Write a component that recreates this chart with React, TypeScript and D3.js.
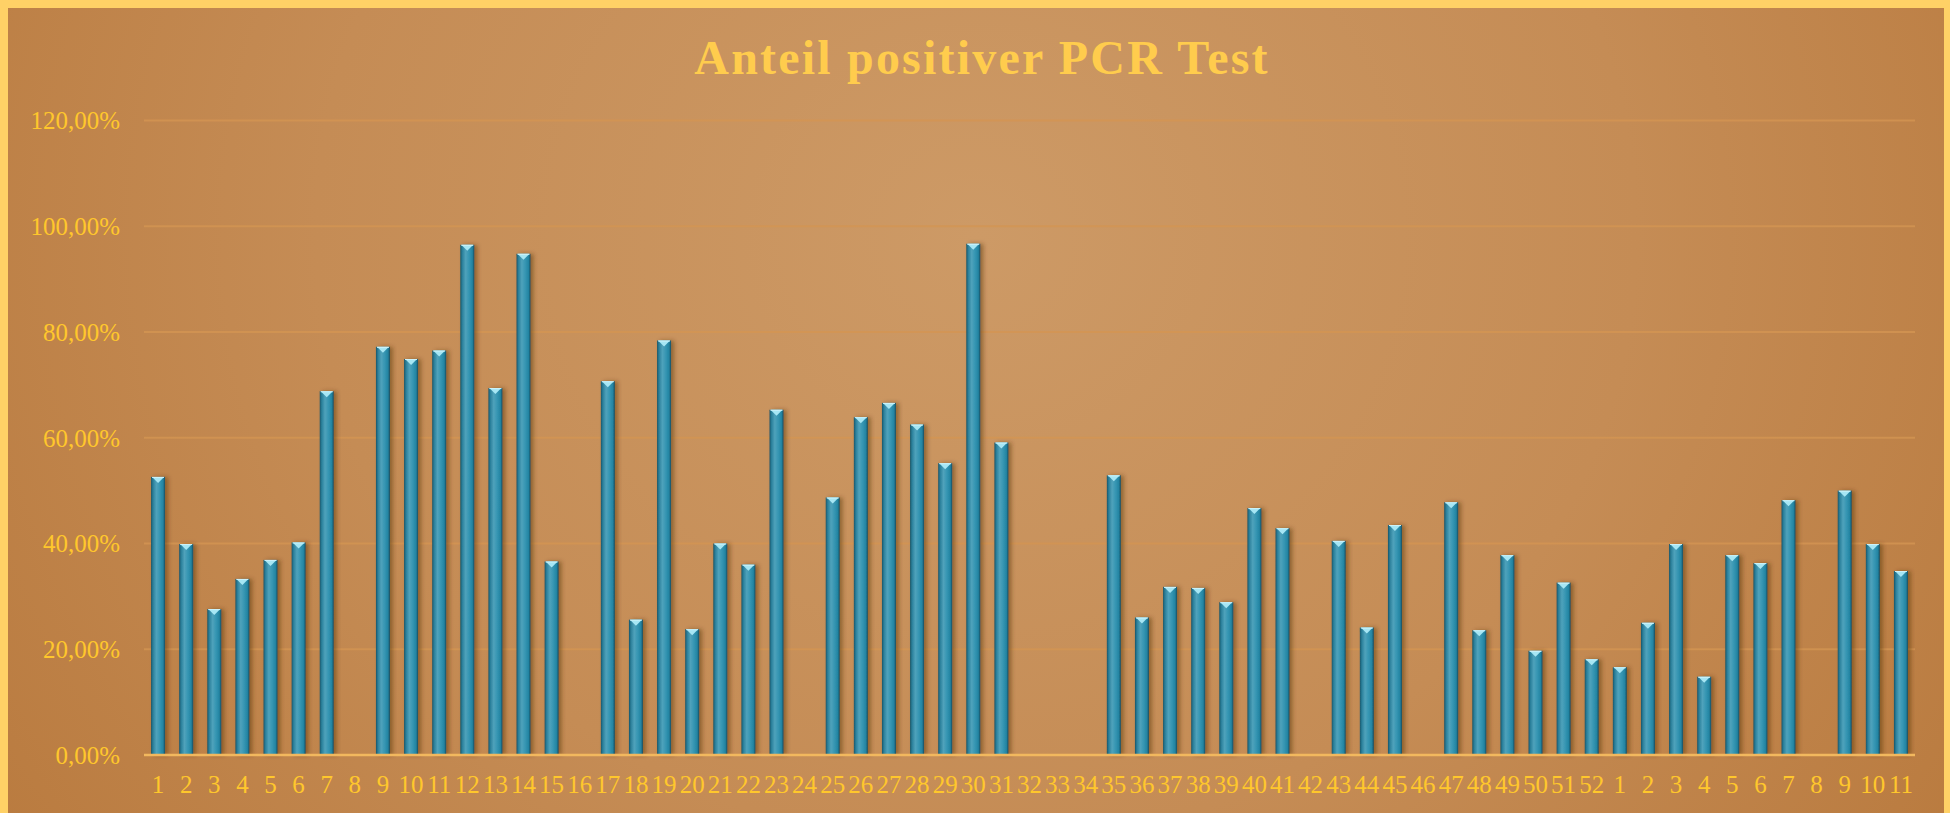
import React from 'react';
import * as d3 from 'd3';

const W = 1950;
const H = 813;

// Kalenderwochen (2020 KW 1-52, 2021 KW 1-11)
const weeks = [
  '1', '2', '3', '4', '5', '6', '7', '8', '9', '10', '11', '12', '13',
  '14', '15', '16', '17', '18', '19', '20', '21', '22', '23', '24', '25', '26',
  '27', '28', '29', '30', '31', '32', '33', '34', '35', '36', '37', '38', '39',
  '40', '41', '42', '43', '44', '45', '46', '47', '48', '49', '50', '51', '52',
  '1', '2', '3', '4', '5', '6', '7', '8', '9', '10', '11',
];

// Anteil positiver Tests in % (null = kein Wert)
const positive = [
  52.6, 39.9, 27.6, 33.3, 36.9, 40.2, 68.8, null, 77.2, 74.9, 76.5, 96.5, 69.4,
  94.8, 36.6, null, 70.7, 25.6, 78.4, 23.8, 40.0, 36.0, 65.3, null, 48.7, 63.9,
  66.6, 62.5, 55.2, 96.7, 59.1, null, null, null, 52.9, 26.0, 31.8, 31.6, 28.9,
  46.7, 42.9, null, 40.5, 24.1, 43.5, null, 47.8, 23.6, 37.8, 19.7, 32.6, 18.1,
  16.6, 25.0, 39.9, 14.8, 37.8, 36.3, 48.2, null, 50.0, 39.9, 34.8,
];

const yTicks = [0, 20, 40, 60, 80, 100, 120];

const title = 'Anteil positiver PCR Test';

const margin = { left: 144, right: 35, top: 120.6, bottom: 58 };

const fmt = (v: number) => v.toFixed(2).replace('.', ',') + '%';

export default function App() {
  const idx = weeks.map((_, i) => i);

  const x = d3
    .scaleBand<number>()
    .domain(idx)
    .range([margin.left, W - margin.right])
    .paddingInner(0)
    .paddingOuter(0);

  const y = d3
    .scaleLinear()
    .domain([0, 120])
    .range([H - margin.bottom, margin.top]);

  const barW = 14;
  const serif = '"Liberation Serif", "Times New Roman", serif';

  return (
    <svg
      width={W}
      height={H}
      style={{ position: 'absolute', left: 0, top: 0 }}
      fontFamily={serif}
    >
      <defs>
        <radialGradient id="bg" cx="0.5" cy="0.28" r="0.62" gradientTransform="translate(0.5 0.28) scale(1 2.2) translate(-0.5 -0.28)">
          <stop offset="0%" stopColor="#cd9a66" />
          <stop offset="55%" stopColor="#c58c55" />
          <stop offset="100%" stopColor="#b97a3e" />
        </radialGradient>
        <linearGradient id="cyl" x1="0" x2="1" y1="0" y2="0">
          <stop offset="0%" stopColor="#1a5568" />
          <stop offset="14%" stopColor="#2a7f9a" />
          <stop offset="38%" stopColor="#4fa2bb" />
          <stop offset="62%" stopColor="#3696b3" />
          <stop offset="86%" stopColor="#2384a2" />
          <stop offset="100%" stopColor="#174c5e" />
        </linearGradient>
        <filter id="shadow" x="-50%" y="-5%" width="200%" height="110%">
          <feDropShadow dx="3" dy="0" stdDeviation="2" floodColor="#4a2a10" floodOpacity="0.45" />
        </filter>
      </defs>

      {/* rahmen + hintergrund */}
      <rect x={0} y={0} width={W} height={H} fill="#ffd166" />
      <rect x={8} y={8} width={W - 14} height={H} fill="url(#bg)" />

      <text
        x={982}
        y={74}
        textAnchor="middle"
        fontSize={48}
        fontWeight="bold"
        letterSpacing={2.2}
        fill="#ffcc4d"
      >
        {title}
      </text>

      {/* gitterlinien */}
      {yTicks.map((t) => (
        <g key={t}>
          {t > 0 && (
            <line
              x1={margin.left}
              x2={W - margin.right}
              y1={y(t)}
              y2={y(t)}
              stroke="#d39552"
              strokeOpacity={0.8}
              strokeWidth={2}
            />
          )}
          <text
            x={120}
            y={y(t)}
            dy="0.35em"
            textAnchor="end"
            fontSize={25}
            fill="#ffc72c"
          >
            {fmt(t)}
          </text>
        </g>
      ))}

      {/* balken */}
      {positive.map((v, i) => {
        if (v == null) return null;
        const cx = (x(i) as number) + x.bandwidth() / 2;
        const top = y(v);
        const bottom = y(0);
        const x0 = cx - barW / 2;
        return (
          <g key={i}>
            <rect
              x={x0}
              y={top}
              width={barW}
              height={bottom - top}
              fill="url(#cyl)"
              filter="url(#shadow)"
            />
            <polygon
              points={`${x0 + 1},${top} ${x0 + barW - 1},${top} ${cx},${top + 6}`}
              fill="#a6e6f4"
            />
            <line
              x1={x0 + 1}
              x2={x0 + barW - 1}
              y1={top + 0.5}
              y2={top + 0.5}
              stroke="#cdf3fb"
              strokeWidth={1}
            />
          </g>
        );
      })}

      {/* achse */}
      <line
        x1={margin.left}
        x2={W - margin.right}
        y1={y(0)}
        y2={y(0)}
        stroke="#f2b85e"
        strokeWidth={2.5}
      />

      {weeks.map((w, i) => (
        <text
          key={i}
          x={(x(i) as number) + x.bandwidth() / 2}
          y={793}
          textAnchor="middle"
          fontSize={25}
          fill="#ffc72c"
        >
          {w}
        </text>
      ))}
    </svg>
  );
}
